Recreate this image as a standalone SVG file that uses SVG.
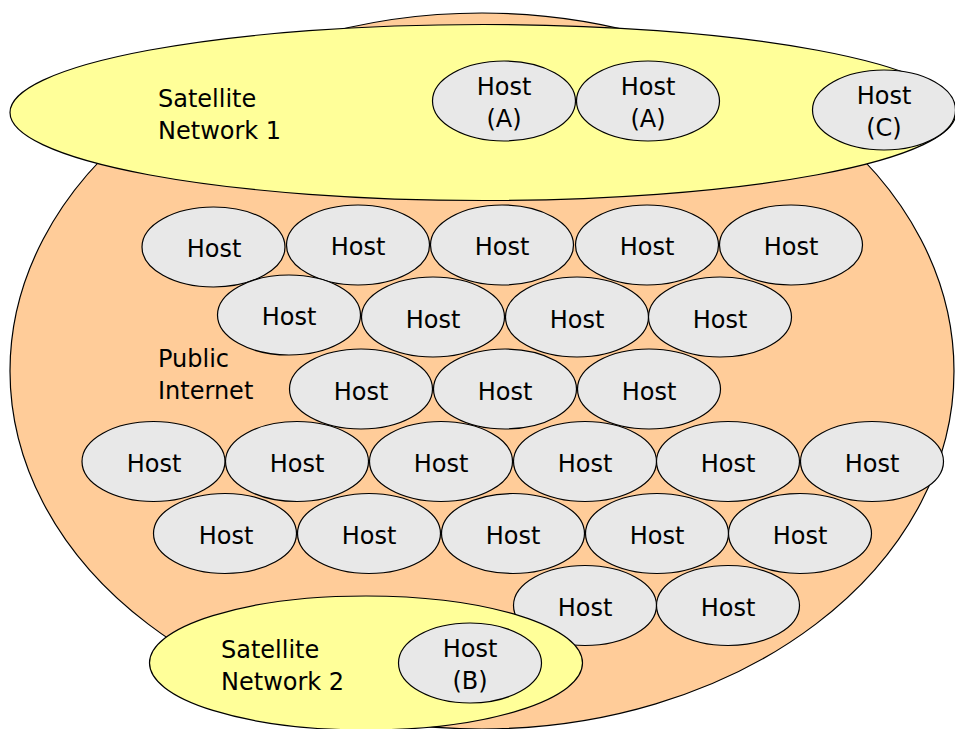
<svg xmlns="http://www.w3.org/2000/svg" width="955" height="729" viewBox="0 0 955 729">
  <style>
    .net { stroke: #000; stroke-width: 1.2; }
    .internet { fill: #FFCC99; }
    .sat { fill: #FFFF99; }
    .host { fill: #E8E8E8; stroke: #000; stroke-width: 1.2; }
    text { font-family: "DejaVu Sans", Verdana, sans-serif; font-size: 24px; fill: #000; }
    .c { text-anchor: middle; }
  </style>
  <defs>
    <ellipse id="hostShape" cx="0" cy="0" rx="71.5" ry="40" class="host"/>
  </defs>

  <!-- Public Internet cloud -->
  <g id="public-internet">
    <ellipse class="net internet" cx="482" cy="371" rx="472" ry="358"/>
    <text x="158" y="367">Public</text>
    <text x="158" y="399">Internet</text>
  </g>

  <!-- Satellite Network 1 -->
  <g id="satellite-network-1">
    <ellipse class="net sat" cx="483" cy="112.5" rx="473" ry="88"/>
    <text x="158" y="107">Satellite</text>
    <text x="158" y="139">Network 1</text>
  </g>
  <g id="host-a1"><use href="#hostShape" x="504" y="101"/><text class="c" x="504" y="95">Host</text><text class="c" x="504" y="127">(A)</text></g>
  <g id="host-a2"><use href="#hostShape" x="648" y="101"/><text class="c" x="648" y="95">Host</text><text class="c" x="648" y="127">(A)</text></g>
  <g id="host-c"><use href="#hostShape" x="884" y="110"/><text class="c" x="884" y="104">Host</text><text class="c" x="884" y="136">(C)</text></g>

  <!-- Internet hosts, row 1 -->
  <g id="host-r1-1"><use href="#hostShape" x="213.5" y="247"/><text class="c" x="214" y="257">Host</text></g>
  <g id="host-r1-2"><use href="#hostShape" x="358" y="245"/><text class="c" x="358" y="255">Host</text></g>
  <g id="host-r1-3"><use href="#hostShape" x="502" y="245"/><text class="c" x="502" y="255">Host</text></g>
  <g id="host-r1-4"><use href="#hostShape" x="647" y="245"/><text class="c" x="647" y="255">Host</text></g>
  <g id="host-r1-5"><use href="#hostShape" x="791" y="245"/><text class="c" x="791" y="255">Host</text></g>

  <!-- row 2 -->
  <g id="host-r2-1"><use href="#hostShape" x="289" y="315"/><text class="c" x="289" y="325">Host</text></g>
  <g id="host-r2-2"><use href="#hostShape" x="433" y="317"/><text class="c" x="433" y="328">Host</text></g>
  <g id="host-r2-3"><use href="#hostShape" x="577" y="317"/><text class="c" x="577" y="328">Host</text></g>
  <g id="host-r2-4"><use href="#hostShape" x="720" y="317"/><text class="c" x="720" y="328">Host</text></g>

  <!-- row 3 -->
  <g id="host-r3-1"><use href="#hostShape" x="361" y="389"/><text class="c" x="361" y="400">Host</text></g>
  <g id="host-r3-2"><use href="#hostShape" x="505" y="389"/><text class="c" x="505" y="400">Host</text></g>
  <g id="host-r3-3"><use href="#hostShape" x="649" y="389"/><text class="c" x="649" y="400">Host</text></g>

  <!-- row 4 -->
  <g id="host-r4-1"><use href="#hostShape" x="153.5" y="461.5"/><text class="c" x="154" y="472">Host</text></g>
  <g id="host-r4-2"><use href="#hostShape" x="297" y="461.5"/><text class="c" x="297" y="472">Host</text></g>
  <g id="host-r4-3"><use href="#hostShape" x="441" y="461.5"/><text class="c" x="441" y="472">Host</text></g>
  <g id="host-r4-4"><use href="#hostShape" x="585" y="461.5"/><text class="c" x="585" y="472">Host</text></g>
  <g id="host-r4-5"><use href="#hostShape" x="728" y="461.5"/><text class="c" x="728" y="472">Host</text></g>
  <g id="host-r4-6"><use href="#hostShape" x="872" y="461.5"/><text class="c" x="872" y="472">Host</text></g>

  <!-- row 5 -->
  <g id="host-r5-1"><use href="#hostShape" x="225" y="533.5"/><text class="c" x="226" y="544">Host</text></g>
  <g id="host-r5-2"><use href="#hostShape" x="369" y="533.5"/><text class="c" x="369" y="544">Host</text></g>
  <g id="host-r5-3"><use href="#hostShape" x="513" y="533.5"/><text class="c" x="513" y="544">Host</text></g>
  <g id="host-r5-4"><use href="#hostShape" x="657" y="533.5"/><text class="c" x="657" y="544">Host</text></g>
  <g id="host-r5-5"><use href="#hostShape" x="800" y="533.5"/><text class="c" x="800" y="544">Host</text></g>

  <!-- row 6 -->
  <g id="host-r6-1"><use href="#hostShape" x="585" y="605.5"/><text class="c" x="585" y="616">Host</text></g>
  <g id="host-r6-2"><use href="#hostShape" x="728" y="605.5"/><text class="c" x="728" y="616">Host</text></g>

  <!-- Satellite Network 2 -->
  <g id="satellite-network-2">
    <ellipse class="net sat" cx="366" cy="663" rx="216.5" ry="67"/>
    <text x="221" y="658">Satellite</text>
    <text x="221" y="690">Network 2</text>
  </g>
  <g id="host-b"><use href="#hostShape" x="470" y="663"/><text class="c" x="470" y="657">Host</text><text class="c" x="470" y="689">(B)</text></g>

  <!-- no connectors in this diagram -->
  <g id="connectors"/>
</svg>
